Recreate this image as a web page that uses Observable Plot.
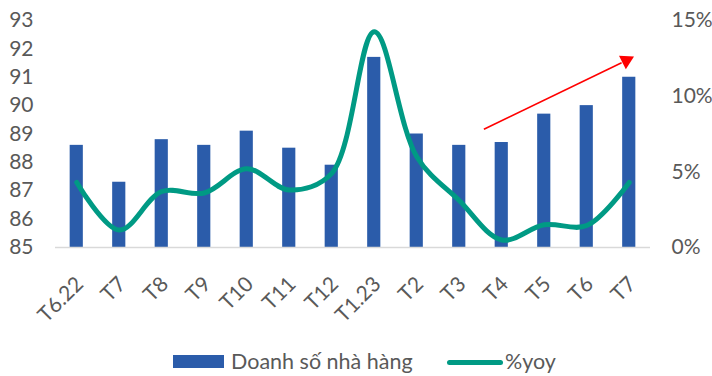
<!DOCTYPE html>
<html>
<head>
<meta charset="utf-8">
<script src="https://cdn.jsdelivr.net/npm/d3@7"></script>
<script src="https://cdn.jsdelivr.net/npm/@observablehq/plot@0.6"></script>
<style>
  body { margin: 0; background: #fff; font-family: Lato, "Noto Sans", sans-serif; }
  #wrap { position: relative; width: 712px; height: 376px; }
  #legend { position: absolute; left: 0; top: 336px; width: 712px; height: 40px; color: #595959; font-size: 21.5px; }
  #legend .sw-bar { position: absolute; left: 173px; top: 19px; width: 51px; height: 13px; background: #2b5caa; }
  #legend .lbl1 { position: absolute; left: 231px; top: 12px; line-height: 26px; }
  #legend .sw-line { position: absolute; left: 447px; top: 23.5px; width: 56px; height: 5px; border-radius: 3px; background: #009a84; }
  #legend .lbl2 { position: absolute; left: 505px; top: 12px; line-height: 26px; }
</style>
</head>
<body>
<div id="wrap">
  <div id="chart"></div>
  <div id="legend">
    <div class="sw-bar"></div><div class="lbl1">Doanh số nhà hàng</div>
    <div class="sw-line"></div><div class="lbl2">%yoy</div>
  </div>
</div>
<script>
// Monthly restaurant sales index and its year-over-year change
const months = ["T6.22", "T7", "T8", "T9", "T10", "T11", "T12", "T1.23", "T2", "T3", "T4", "T5", "T6", "T7"];
const sales = [88.6, 87.3, 88.8, 88.6, 89.1, 88.5, 87.9, 91.7, 89.0, 88.6, 88.7, 89.7, 90.0, 91.0];
const yoyPct = [4.3, 1.15, 3.7, 3.6, 5.2, 3.8, 4.9, 14.25, 6.0, 3.1, 0.5, 1.5, 1.45, 4.3];

// Left axis (sales) and right axis (%yoy) ranges
const leftTicks = [85, 86, 87, 88, 89, 90, 91, 92, 93];
const rightTicks = [0, 5, 10, 15];
const leftMin = 85, leftMax = 93, rightMax = 15;

// Trend arrow, in index / sales units
const trendX = [9.58, 12.82];
const trendY = [89.17, 91.51];
const headX = [12.93];
const headY = [91.59];

// Map a %yoy value onto the left (sales) scale
const toLeft = p => leftMin + p * (leftMax - leftMin) / rightMax;

const idx = months.map((_, i) => i);
const barHalf = 0.155;

const chart = Plot.plot({
  width: 712,
  height: 336,
  marginLeft: 55,
  marginRight: 62,
  marginTop: 20,
  marginBottom: 89,
  style: { fontFamily: "Lato, 'Noto Sans', sans-serif", fontSize: "21px", color: "#595959", background: "#fff" },
  x: { type: "linear", domain: [-0.5, months.length - 0.5] },
  y: { domain: [leftMin, leftMax] },
  marks: [
    Plot.rectY(idx, {
      x1: i => i - barHalf, x2: i => i + barHalf,
      y1: leftMin, y2: i => sales[i],
      fill: "#2b5caa"
    }),
    Plot.ruleY([leftMin], { stroke: "#d9d9d9", strokeWidth: 1.5 }),
    Plot.line(idx, {
      x: i => i, y: i => toLeft(yoyPct[i]),
      curve: "catmull-rom",
      stroke: "#009a84", strokeWidth: 5, strokeLinecap: "round"
    }),
    Plot.link([0], {
      x1: () => trendX[0], y1: () => trendY[0],
      x2: () => trendX[1], y2: () => trendY[1],
      stroke: "#ff0000", strokeWidth: 1.6
    }),
    Plot.dot([0], {
      x: () => headX[0], y: () => headY[0],
      symbol: "triangle", r: 5.6, rotate: 63, fill: "#ff0000", stroke: "none"
    }),
    Plot.axisY(leftTicks, { anchor: "left", tickSize: 0, tickPadding: 22, fill: "#595959" }),
    Plot.axisY(rightTicks.map(toLeft), {
      anchor: "right", tickSize: 0, tickPadding: 21, fill: "#595959",
      tickFormat: v => `${Math.round((v - leftMin) * rightMax / (leftMax - leftMin))}%`
    }),
    Plot.axisX(idx, {
      tickSize: 0, tickPadding: 33, tickRotate: -45, fill: "#595959",
      tickFormat: i => months[i], dx: 3
    })
  ]
});

document.getElementById("chart").appendChild(chart);
</script>
</body>
</html>
